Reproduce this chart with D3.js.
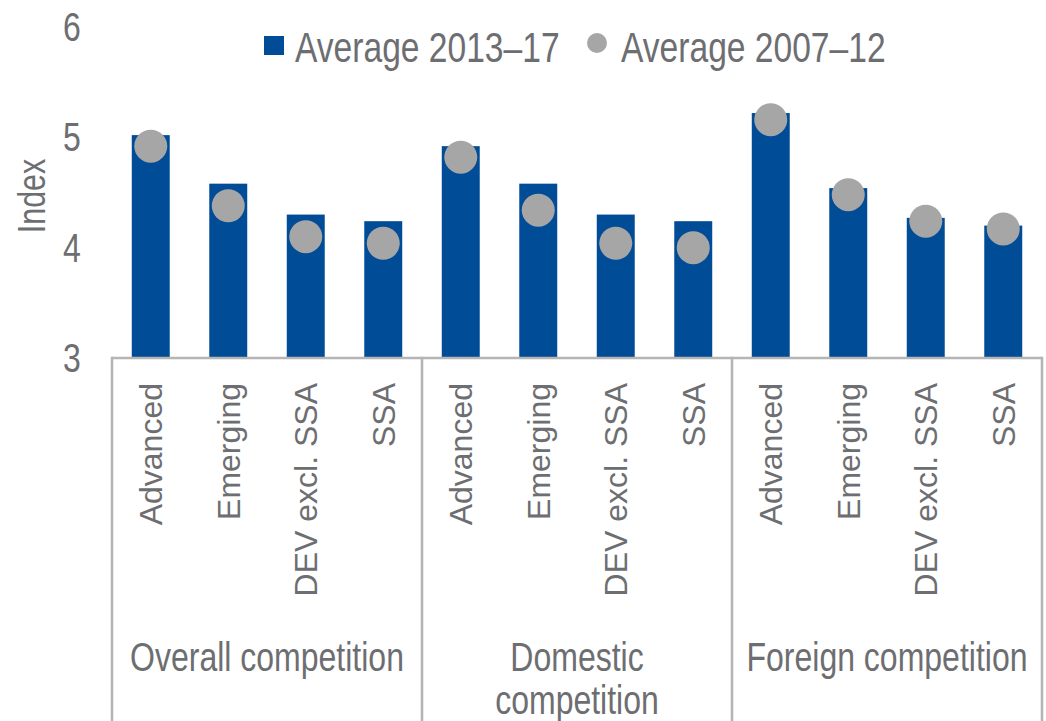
<!DOCTYPE html>
<html>
<head>
<meta charset="utf-8">
<script src="https://d3js.org/d3.v7.min.js"></script>
<style>
body { margin: 0; background: #fff; }
text { fill: #6d6e71; font-family: "Liberation Sans", Arial, sans-serif; }
</style>
</head>
<body>
<div id="viz"></div>
<script>
// data
var groups = ["Overall competition", "Domestic competition", "Foreign competition"];
var regions = ["Advanced", "Emerging", "DEV excl. SSA", "SSA"];
var avg1317 = [5.02, 4.58, 4.30, 4.24,  4.92, 4.58, 4.30, 4.24,  5.22, 4.54, 4.27, 4.20];
var avg0712 = [4.92, 4.38, 4.10, 4.04,  4.82, 4.34, 4.04, 4.00,  5.16, 4.48, 4.24, 4.17];
var yTicks = [3, 4, 5, 6];
var legendLabels = ["Average 2013\u201317", "Average 2007\u201312"];

var W = 1046, H = 721;
var plotL = 112, plotR = 1042, base = 358, plotT = 27;
var blue = "#004c97", grey = "#a6a6a6", frame = "#b5b5b5";
var squeeze = 0.8; // narrow font look

var rows = [];
groups.forEach(function(g, gi) {
  regions.forEach(function(r, ri) {
    var i = gi * regions.length + ri;
    rows.push({key: i, group: g, region: r, v1: avg1317[i], v0: avg0712[i]});
  });
});

var svg = d3.select("#viz").append("svg")
  .attr("width", W).attr("height", H);

var x = d3.scaleBand().domain(rows.map(function(d) { return d.key; }))
  .range([plotL, plotR]).paddingInner(0.51).paddingOuter(0.255);
var xg = d3.scaleBand().domain(groups).range([plotL, plotR]);
var y = d3.scaleLinear().domain([3, 6]).range([base, plotT]);

// helper: condensed text placed at (px,py)
function narrow(sel, px, py, size, str, anchor) {
  return sel.append("text")
    .attr("transform", "translate(" + px + "," + py + ") scale(" + squeeze + ",1)")
    .attr("text-anchor", anchor || "start")
    .style("font-size", size + "px")
    .text(str);
}

// bars
svg.selectAll("rect.bar").data(rows).enter().append("rect")
  .attr("class", "bar")
  .attr("x", function(d) { return x(d.key); })
  .attr("width", x.bandwidth())
  .attr("y", function(d) { return y(d.v1); })
  .attr("height", function(d) { return y(3) - y(d.v1); })
  .style("fill", blue);

// dots
svg.selectAll("circle.dot").data(rows).enter().append("circle")
  .attr("class", "dot")
  .attr("cx", function(d) { return x(d.key) + x.bandwidth() / 2; })
  .attr("cy", function(d) { return y(d.v0); })
  .attr("r", 16.5)
  .style("fill", grey);

// frame under the axis
svg.append("line")
  .attr("x1", plotL).attr("x2", plotR).attr("y1", base).attr("y2", base)
  .style("stroke", frame).style("stroke-width", 2.6);
var seps = groups.map(function(g) { return xg(g); }).concat([plotR]);
svg.selectAll("line.sep").data(seps).enter().append("line")
  .attr("class", "sep")
  .attr("x1", function(d) { return d; }).attr("x2", function(d) { return d; })
  .attr("y1", base - 1.3).attr("y2", H)
  .style("stroke", frame).style("stroke-width", 2.6);

// y tick labels
yTicks.forEach(function(t) {
  narrow(svg, 72, y(t) + 14, 40, t, "middle");
});

svg.append("text")
  .attr("transform", "translate(45,196) rotate(-90) scale(" + squeeze + ",1)")
  .attr("text-anchor", "middle")
  .style("font-size", "38px")
  .text("Index");

// rotated category labels
svg.selectAll("text.cat").data(rows).enter().append("text")
  .attr("class", "cat")
  .attr("transform", function(d) {
    return "translate(" + (x(d.key) + x.bandwidth() / 2) + ",383) rotate(-90)";
  })
  .attr("dy", "0.36em")
  .attr("text-anchor", "end")
  .style("font-size", "32px")
  .text(function(d) { return d.region; });

// group labels
groups.forEach(function(g) {
  var cx = xg(g) + xg.bandwidth() / 2;
  var parts = (g === "Domestic competition") ? ["Domestic", "competition"] : [g];
  parts.forEach(function(p, i) {
    narrow(svg, cx, 671 + i * 43, 40, p, "middle");
  });
});

// legend
var lg = svg.append("g");
lg.append("rect").attr("x", 264).attr("y", 36).attr("width", 20).attr("height", 19)
  .style("fill", blue);
narrow(lg, 295, 62, 42, legendLabels[0]);
lg.append("circle").attr("cx", 597).attr("cy", 43).attr("r", 10).style("fill", grey);
narrow(lg, 621, 62, 42, legendLabels[1]);
</script>
</body>
</html>
